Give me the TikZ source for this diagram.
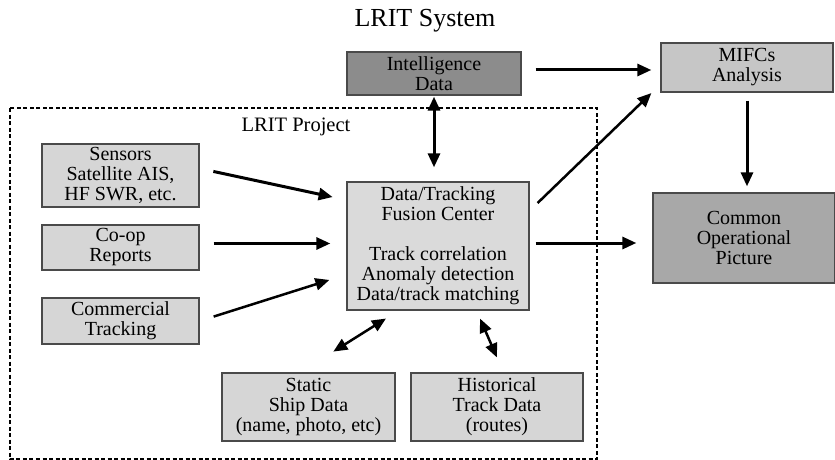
\documentclass[tikz,border=0pt]{standalone}
\usepackage{fontspec}
\setmainfont{Liberation Serif}
\usetikzlibrary{arrows.meta}
\definecolor{boxline}{HTML}{4A4A4A}
\definecolor{fillA}{HTML}{D6D6D6}
\definecolor{fillB}{HTML}{8C8C8C}
\definecolor{fillC}{HTML}{C6C6C6}
\definecolor{fillD}{HTML}{A8A8A8}
\definecolor{fillE}{HTML}{DADADA}
\begin{document}
\begin{tikzpicture}[x=1pt,y=-1pt,
  box/.style={draw=boxline,line width=1.3pt,fill=fillA,inner sep=0pt,align=center,
    font=\fontsize{20}{20}\selectfont},
  arr/.style={line width=3pt,-{Triangle[length=14pt,width=12pt]}},
  darr/.style={line width=3pt,{Triangle[length=14pt,width=12pt]}-{Triangle[length=14pt,width=12pt]}}]
\useasboundingbox (0,0) rectangle (835,460);
% title and project frame
\node[font=\fontsize{26}{26}\selectfont] (title) at (425,21) {LRIT System};
\draw[line width=1.4pt,dash pattern=on 4pt off 2.5pt] (10,108) rectangle (597,459);
\node[font=\fontsize{20.5}{20.5}\selectfont] (proj) at (296,127) {LRIT Project};
% boxes
\node[box,fill=fillB,minimum width=174pt,minimum height=43pt] (intel) at (434,73.5) {Intelligence\\Data};
\node[box,fill=fillC,minimum width=172pt,minimum height=49pt] (mifc) at (747,67.5) {MIFCs\\Analysis};
\node[box,fill=fillD,minimum width=182pt,minimum height=90pt] (cop) at (744,238) {Common\\Operational\\Picture};
\node[box,fill=fillE,minimum width=182pt,minimum height=128pt] (fus) at (438,246)
  {Data/Tracking\\Fusion Center\\[20pt]Track correlation\\Anomaly detection\\Data/track matching};
\node[box,minimum width=157pt,minimum height=63pt] (sens) at (120.5,175.5) {Sensors\\Satellite AIS,\\HF SWR, etc.};
\node[box,minimum width=157pt,minimum height=45pt] (coop) at (120.5,247.5) {Co-op\\Reports};
\node[box,minimum width=157pt,minimum height=46pt] (comm) at (120.5,321) {Commercial\\Tracking};
\node[box,minimum width=173pt,minimum height=68pt] (stat) at (308.5,407) {Static\\Ship Data\\(name, photo, etc)};
\node[box,minimum width=172pt,minimum height=68pt] (hist) at (497,407) {Historical\\Track Data\\(routes)};
% inputs into the fusion center
\draw[arr,shorten <=14pt,shorten >=14pt] ([yshift=7pt]sens.east) -- ([yshift=46pt]fus.west);
\draw[arr,shorten <=14pt,shorten >=16pt] ([yshift=4pt]coop.east) -- ([yshift=4pt]coop.east -| fus.west);
\draw[arr,line width=2.5pt,shorten <=14.7pt,shorten >=17.8pt] (comm.east) -- ([yshift=-28.6pt]fus.west);
% outputs of the fusion center
\draw[darr,shorten <=1pt,shorten >=14pt] (intel.south) -- (intel.south |- fus.north);
\draw[arr,line width=2.5pt,shorten <=11pt,shorten >=12.5pt] ([yshift=35.3pt]fus.east) -- ([yshift=-16.9pt]mifc.west);
\draw[arr,shorten <=14pt,shorten >=9pt] ([yshift=3.5pt]intel.east) -- ([yshift=3.5pt]intel.east -| mifc.west);
\draw[arr,shorten <=8pt,shorten >=6pt] (mifc.south) -- (mifc.south |- cop.north);
\draw[arr,shorten <=6pt,shorten >=16pt] ([yshift=3pt]fus.east) -- ([yshift=3pt]fus.east -| cop.west);
% links to the data stores
\draw[darr,line width=2.5pt,shorten <=14.8pt,shorten >=39pt] ([xshift=-39.5pt]fus.south) -- ([xshift=-8.2pt]stat.north);
\draw[darr,line width=2.5pt,shorten <=8.7pt,shorten >=16.3pt] ([xshift=38.6pt]fus.south) -- ([xshift=6.4pt]hist.north);
\end{tikzpicture}
\end{document}
